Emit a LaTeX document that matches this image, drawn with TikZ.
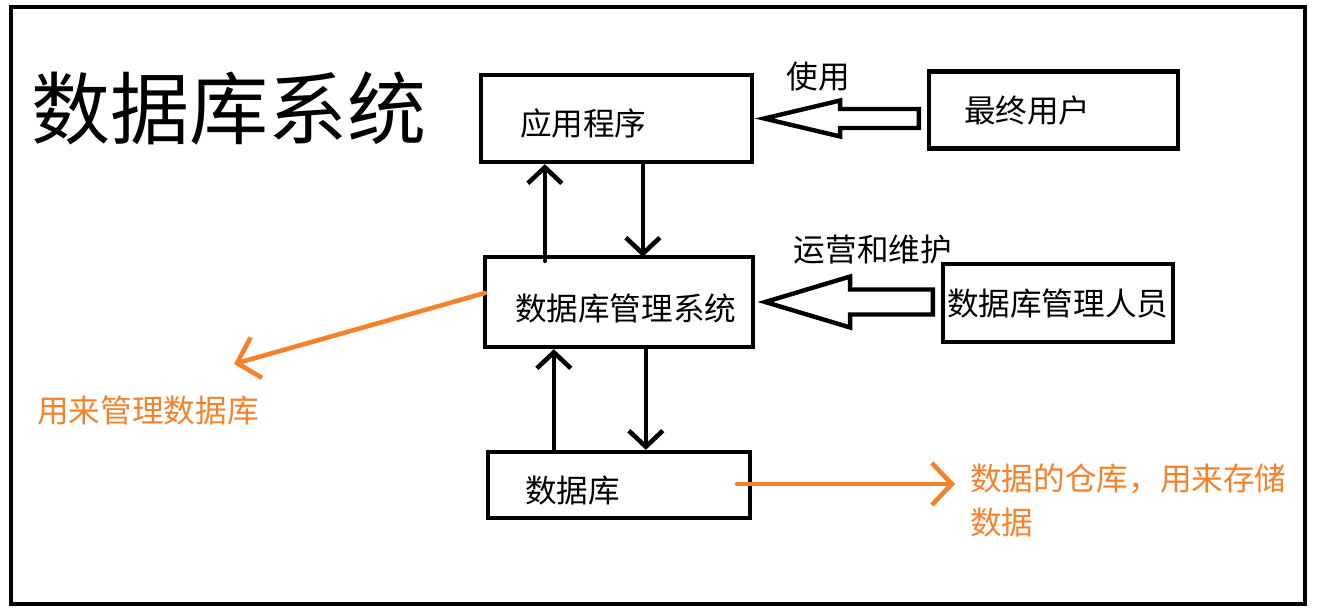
\documentclass[tikz,border=0pt]{standalone}
\usepackage{fontspec}
\setmainfont{Noto Sans CJK SC}
\usepackage{xcolor}
\usepackage{tikz}
\usetikzlibrary{calc,arrows.meta,positioning}
\definecolor{ink}{HTML}{000000}
\definecolor{note}{HTML}{F5822A}
\hfuzz=2cm
\tikzset{
  BoxNode/.style={
    draw=ink, line width=2.5pt, line join=miter,
    align=left, inner ysep=0pt,
    font=\fontsize{18pt}{22pt}\selectfont
  },
  FlowArrow/.style={
    draw=ink, line width=2.6pt, line cap=round,
    -{Straight Barb[length=3.2mm,width=6.8mm]}
  },
  NoteArrow/.style={
    draw=note, line width=2.6pt, line cap=round,
    -{Straight Barb[length=4mm,width=8.4mm]}
  },
  HollowArrow/.style={
    draw=ink, line width=2.5pt, line join=miter
  },
  PlainText/.style={
    inner sep=0pt,
    font=\fontsize{18pt}{22pt}\selectfont
  },
  NoteText/.style={
    text=note, inner sep=0pt, align=left,
    font=\fontsize{18pt}{25pt}\selectfont
  }
}
\newcommand{\BigArrow}[5]{%
  % #1 = source node, #2 = target node
  % #3 = head length, #4 = half head height, #5 = half shaft height (px units)
  \coordinate (tip) at ($(#2.east)+(10,0)$);
  \path (tip -| #1.west) ++(-8,0) coordinate (tail);
  \draw[HollowArrow] (tip) -- ++(#3,-#4) -- ++(0,#4-#5)
    -- ($(tail)+(0,-#5)$) -- ++(0,2*#5)
    -- ($(tip)+(#3,#5)$) -- ++(0,#4-#5) -- cycle;
}

\begin{document}
\begin{tikzpicture}[x=0.02cm, y=-0.02cm, line cap=round, line join=round]
  % canvas and outer frame
  \useasboundingbox (0,0) rectangle (1317,608);
  \fill[white] (0,0) rectangle (1317,608);
  \draw[ink, line width=2.8pt, line join=miter] (11,7) rectangle (1305,604);

  % title
  \node[inner sep=0pt, font=\fontsize{45pt}{54pt}\selectfont] (title) at (229,108) {数据库系统};

  % boxes
  \node[BoxNode, minimum height=1.74cm, inner xsep=0.78cm, text width=3.86cm, text height=0.74cm] (app) at (616.5,118.5) {应用程序};
  \node[BoxNode, minimum height=1.54cm, inner xsep=0.70cm, text width=3.58cm] (user) at (1053.5,110) {最终用户};
  \node[BoxNode, minimum height=1.80cm, inner xsep=0.60cm, text width=4.16cm, text height=0.80cm] (dbms) at (619,302) {数据库管理系统};
  \node[BoxNode, minimum height=1.56cm, inner xsep=0.08cm, text width=4.44cm] (admin) at (1058,303) {数据库管理人员};
  \node[BoxNode, minimum height=1.32cm, inner xsep=0.74cm, text width=3.76cm, text height=0.74cm] (db) at (619,485) {数据库};

  % hollow arrows from the people
  \BigArrow{user}{app}{76}{18}{9.5}
  \BigArrow{admin}{dbms}{85}{25.5}{12.5}
  \node[PlainText] (use) at (818,77) {使用};
  \node[PlainText] (ops) at (873,250) {运营和维护};

  % flow between the layers
  \draw[FlowArrow] ($(dbms.north west)+(62,6)$) coordinate (up1) -- (up1 |- app.south);
  \draw[FlowArrow] ($(app.south west)+(164,0)$) coordinate (dn1) -- ($(dn1 |- dbms.north)+(0,2)$);
  \draw[FlowArrow] ($(db.north west)+(68,0)$) coordinate (up2) -- (up2 |- dbms.south);
  \draw[FlowArrow] ($(dbms.south west)+(163,0)$) coordinate (dn2) -- (dn2 |- db.north);

  % notes
  \node[NoteText] (manage) at (148,410) {用来管理数据库};
  \node[NoteText, anchor=west] (store) at (970,500) {数据的仓库，用来存储\\数据};
  \draw[NoteArrow] ($(dbms.west)+(2,-9)$) -- ($(manage.north east)+(-25,-31)$);
  \draw[NoteArrow] ($(db.east)+(-15,-1)$) coordinate (st) -- ($(st -| store.west)+(-15,0)$);
\end{tikzpicture}
\end{document}
